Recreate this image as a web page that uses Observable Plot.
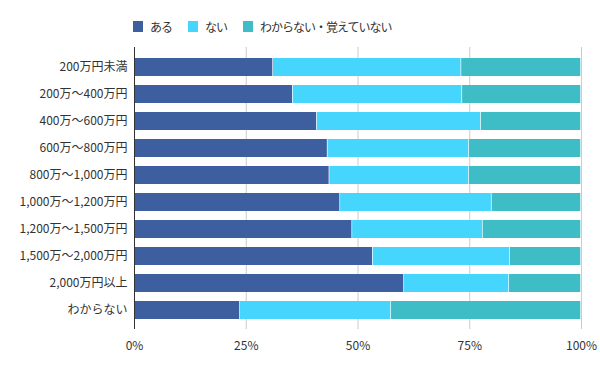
<!DOCTYPE html>
<html><head><meta charset="utf-8">
<script src="https://cdn.jsdelivr.net/npm/d3@7"></script>
<script src="https://cdn.jsdelivr.net/npm/@observablehq/plot@0.6"></script>
<style>
body{margin:0;background:#fff;font-family:"Noto Sans CJK JP","Noto Sans",sans-serif;}
#legend{position:relative;height:40px;font-size:12px;letter-spacing:-1px;color:#333;}
.item{position:absolute;top:18px;display:flex;align-items:center;height:17px;line-height:17px;white-space:nowrap;}
.sw{width:10px;height:11px;margin-right:7px;}
</style></head><body>
<div id="legend"></div>
<div id="chart"></div>
<script>
const categories = ["200万円未満","200万～400万円","400万～600万円","600万～800万円","800万～1,000万円","1,000万～1,200万円","1,200万～1,500万円","1,500万～2,000万円","2,000万円以上","わからない"];
const seriesNames = ["ある","ない","わからない・覚えていない"];
const aru = [31.1, 35.5, 40.9, 43.3, 43.7, 46.1, 48.8, 53.4, 60.4, 23.7];
const nai = [42.1, 37.9, 36.7, 31.6, 31.2, 33.9, 29.2, 30.7, 23.5, 33.8];
const wakaranai = [26.8, 26.6, 22.4, 25.1, 25.1, 20.0, 22.0, 15.9, 16.1, 42.5];
const xTicks = [0, 25, 50, 75, 100];
const colors = ["#3d5f9f", "#46d5fd", "#3ebdc6"];

const valuesBySeries = [aru, nai, wakaranai];
const data = [];
seriesNames.forEach((s, si) => categories.forEach((c, ci) => data.push({category: c, series: s, value: valuesBySeries[si][ci]})));

// legend laid out left-to-right from its left edge
const legend = document.getElementById("legend");
let lx = 133;
seriesNames.forEach((s, i) => {
  const it = document.createElement("div"); it.className = "item"; it.style.left = lx + "px";
  const sw = document.createElement("div"); sw.className = "sw"; sw.style.background = colors[i];
  const t = document.createElement("span"); t.textContent = s;
  it.appendChild(sw); it.appendChild(t); legend.appendChild(it);
  lx += it.getBoundingClientRect().width + 16;
});

const chart = Plot.plot({
  width: 600,
  height: 331,
  marginTop: 7,
  marginBottom: 42,
  marginLeft: 134,
  marginRight: 19,
  style: {fontFamily: '"Noto Sans CJK JP","Noto Sans",sans-serif', fontSize: "12px", color: "#333", background: "#fff"},
  x: {domain: [0, 100]},
  y: {domain: categories, padding: 0.34},
  color: {domain: seriesNames, range: colors},
  marks: [
    Plot.ruleX(xTicks.slice(1), {stroke: "#cccccc", strokeWidth: 1, strokeOpacity: 1}),
    Plot.barX(data, Plot.stackX({y: "category", x: "value", fill: "series", order: seriesNames, insetRight: 0.7})),
    Plot.ruleX([0], {stroke: "#333", strokeWidth: 1}),
    Plot.axisY({tickSize: 0, tickPadding: 7, label: null, fontSize: 12}),
    Plot.axisX({ticks: xTicks, tickSize: 0, tickPadding: 12, tickFormat: d => d + "%", label: null, fontSize: 12})
  ]
});
document.getElementById("chart").appendChild(chart);
</script>
</body></html>
